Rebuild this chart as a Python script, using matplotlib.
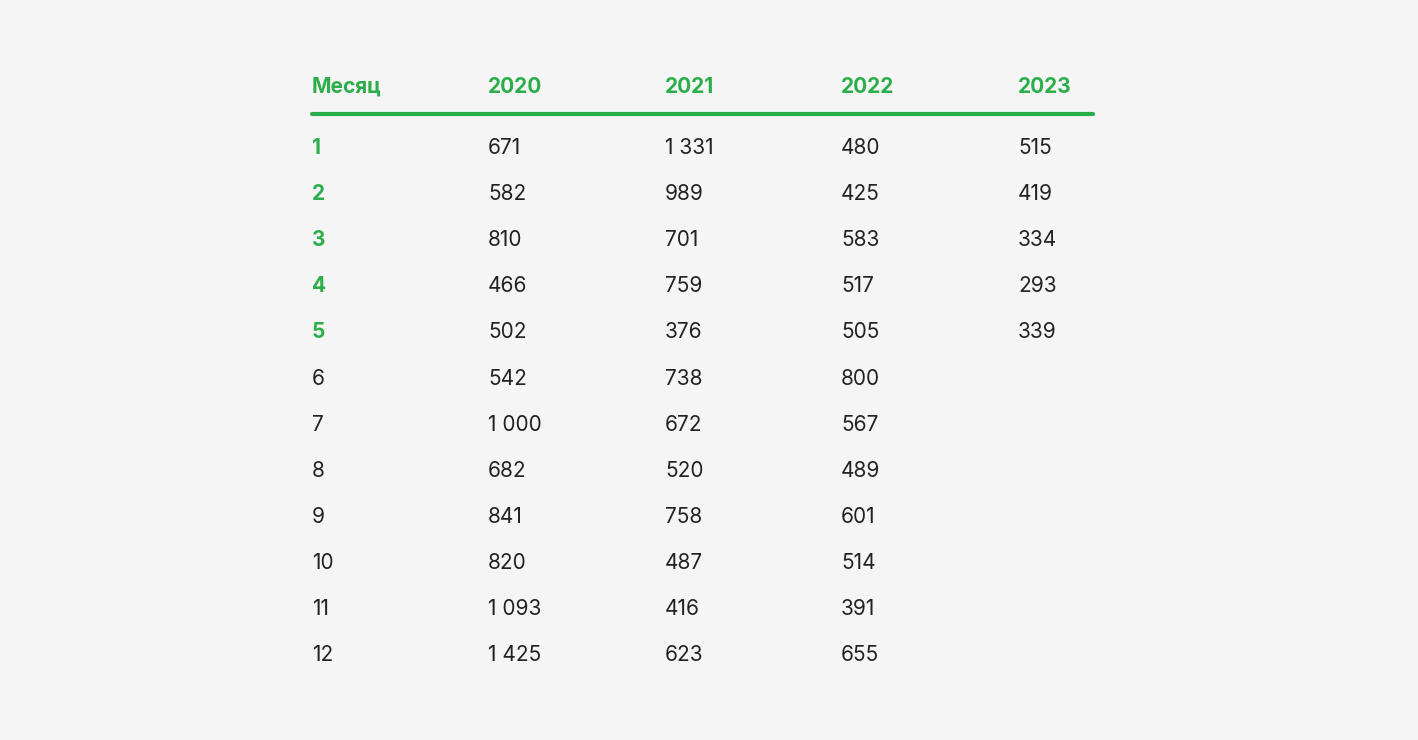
import matplotlib.pyplot as plt

def create_month_table(save_path, dpi=100):

    fig = plt.figure(figsize=(14.18, 7.4), facecolor='#F5F5F5')

    colors = {
        'green': '#2BAE4A',
        'text': '#222222',
        'bg': '#F5F5F5'
    }

    headers = ['Месяц', '2020', '2021', '2022', '2023']
    data = {
        '2020': [671, 582, 810, 466, 502, 542, 1000, 682, 841, 820, 1093, 1425],
        '2021': [1331, 989, 701, 759, 376, 738, 672, 520, 758, 487, 416, 623],
        '2022': [480, 425, 583, 517, 505, 800, 567, 489, 601, 514, 391, 655],
        '2023': [515, 419, 334, 293, 339]
    }

    col_x = [312, 488, 665, 841, 1018]  # pixel positions
    W, H = 1418, 740

    def fmt(v):
        return f'{v:,}'.replace(',', '\u2009') if v >= 1000 else str(v)

    for x, h in zip(col_x, headers):
        fig.text(x / W, 1 - 87 / H, h, ha='left', va='center', fontsize=15,
                 fontweight='bold', color=colors['green'], family='Inter')

    fig.add_artist(plt.Line2D([312 / W, 1093 / W], [1 - 114 / H, 1 - 114 / H],
                              color=colors['green'], linewidth=3,
                              solid_capstyle='round'))

    for i in range(12):
        y = 1 - (148 + i * 46.1) / H
        n_2023 = len(data['2023'])
        fig.text(col_x[0] / W, y, str(i + 1), ha='left', va='center', fontsize=15,
                 fontweight='bold' if i < n_2023 else 'normal',
                 color=colors['green'] if i < n_2023 else colors['text'],
                 family='Inter')
        for x, year in zip(col_x[1:], headers[1:]):
            if i < len(data[year]):
                fig.text(x / W, y, fmt(data[year][i]).replace('\u2009', ' '),
                         ha='left', va='center', fontsize=15,
                         color=colors['text'], family='Inter')

    plt.savefig(save_path, dpi=dpi, facecolor=colors['bg'])
    plt.close()

create_month_table('out.png')
